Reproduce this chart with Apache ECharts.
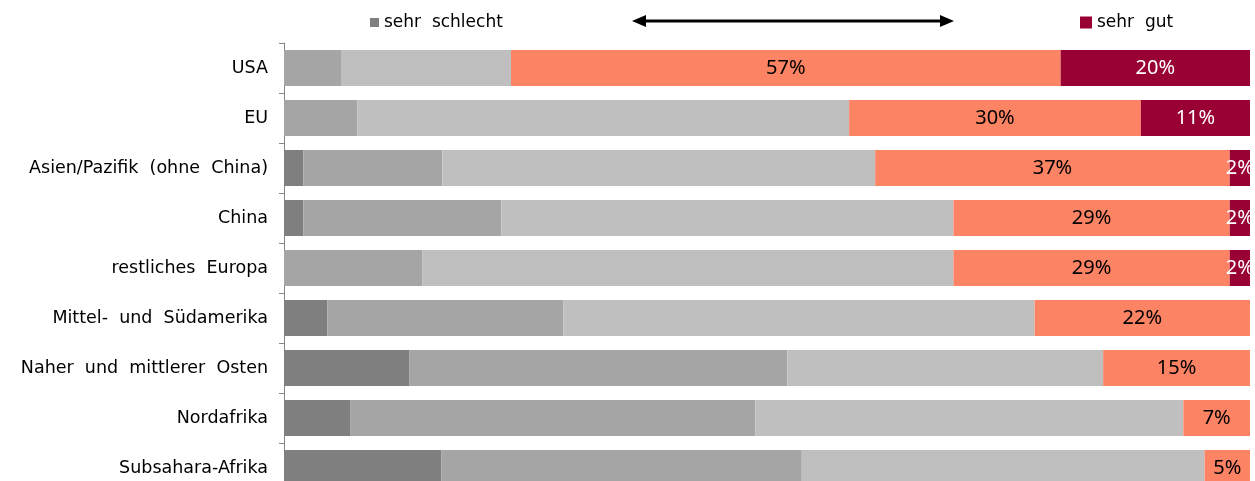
<!DOCTYPE html>
<html>
<head>
<meta charset="utf-8">
<script src="https://cdn.jsdelivr.net/npm/echarts@6/dist/echarts.min.js"></script>
<style>
html,body{margin:0;padding:0;background:#fff;overflow:hidden;}
#chart{width:1255px;height:481px;}
</style>
</head>
<body>
<div id="chart"></div>
<script>
const categories = ['USA','EU','Asien/Pazifik (ohne China)','China','restliches Europa','Mittel- und Südamerika','Naher und mittlerer Osten','Nordafrika','Subsahara-Afrika'];
const seriesNames = ['sehr schlecht','schlecht','neutral','gut','sehr gut'];
const sehrSchlecht = [0, 0, 2.0, 2.0, 0, 4.5, 13.0, 6.9, 16.3];
const schlecht     = [5.9, 7.6, 14.4, 20.5, 14.3, 24.4, 39.1, 41.9, 37.3];
const neutral      = [17.6, 50.9, 44.8, 46.8, 55.0, 48.8, 32.7, 44.3, 41.7];
const gut          = [56.9, 30.2, 36.7, 28.6, 28.6, 22.3, 15.2, 6.9, 4.7];
const sehrGut      = [19.6, 11.3, 2.1, 2.1, 2.1, 0, 0, 0, 0];
const colors = ['#7f7f7f','#a5a5a5','#bfbfbf','#fc8363','#990033'];
const TEXT_FONT = 'DejaVu Sans';
const LABEL_FONT = 'Noto Sans';
const wide = s => s.replace(/ /g, '  ');

const values = [sehrSchlecht, schlecht, neutral, gut, sehrGut];
const chart = echarts.init(document.getElementById('chart'), null, {renderer:'canvas'});

const series = seriesNames.map((name, i) => ({
  name: name,
  type: 'bar',
  stack: 'total',
  barWidth: 36,
  data: values[i].map(v => v === 0 ? null : v),
  itemStyle: { color: colors[i] },
  label: {
    show: i >= 3,
    position: 'inside',
    color: i === 4 ? '#ffffff' : '#000000',
    fontFamily: LABEL_FONT,
    fontSize: 20,
    formatter: p => Math.round(p.value) + '%'
  },
  emphasis: { disabled: true },
  animation: false
}));

const option = {
  backgroundColor: '#ffffff',
  animation: false,
  grid: { left: 284, right: 5, top: 43, height: 450, containLabel: false, outerBoundsMode: 'none' },
  legend: [
    { data: ['sehr schlecht'], left: 365, top: 9, icon: 'rect', itemWidth: 9, itemHeight: 9, itemGap: 4,
      selectedMode: false, formatter: wide, textStyle: { fontFamily: TEXT_FONT, fontSize: 17, color: '#000' } },
    { data: ['sehr gut'], left: 1075, top: 9, icon: 'rect', itemWidth: 12, itemHeight: 12, itemGap: 4,
      selectedMode: false, formatter: wide, textStyle: { fontFamily: TEXT_FONT, fontSize: 17, color: '#000' } }
  ],
  xAxis: { type: 'value', min: 0, max: 100, show: false },
  yAxis: {
    type: 'category',
    data: categories,
    inverse: true,
    axisLine: { show: true, lineStyle: { color: '#868686', width: 1 } },
    axisTick: { show: true, inside: false, length: 5, lineStyle: { color: '#868686' } },
    axisLabel: { margin: 16, color: '#000', fontFamily: TEXT_FONT, fontSize: 17.5, formatter: wide },
    splitLine: { show: false }
  },
  graphic: [
    { type: 'line', shape: { x1: 642, y1: 21, x2: 944, y2: 21 }, style: { stroke: '#000', lineWidth: 3 } },
    { type: 'polygon', shape: { points: [[632,21],[646,15],[646,27]] }, style: { fill: '#000' } },
    { type: 'polygon', shape: { points: [[954,21],[940,15],[940,27]] }, style: { fill: '#000' } }
  ],
  series: series
};
chart.setOption(option);
</script>
</body>
</html>
